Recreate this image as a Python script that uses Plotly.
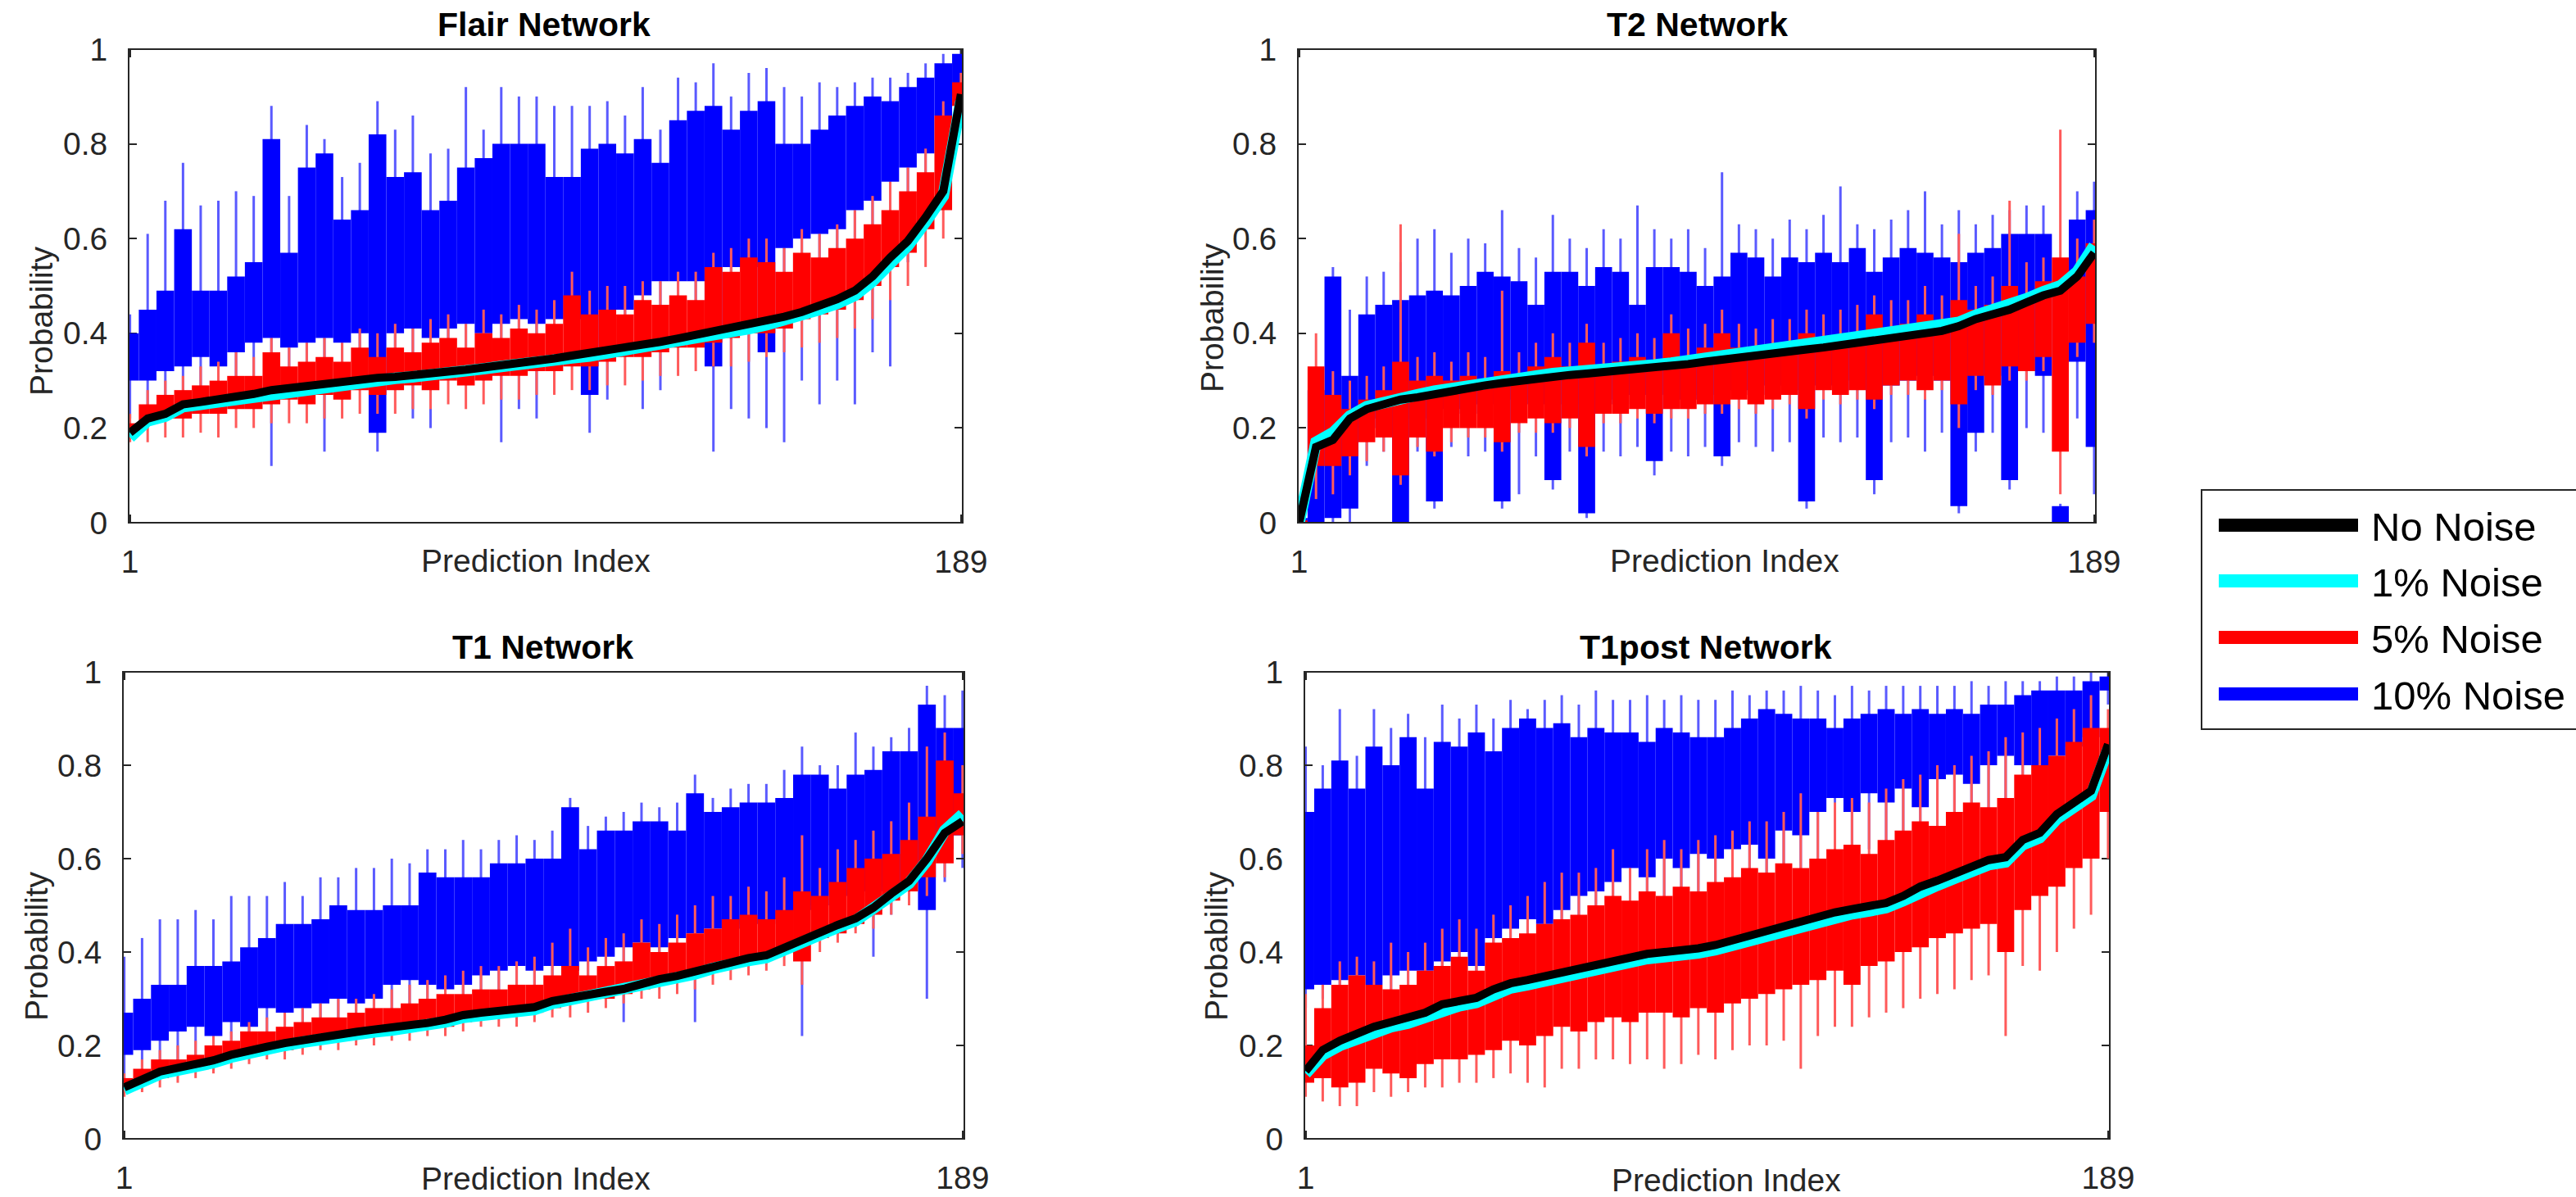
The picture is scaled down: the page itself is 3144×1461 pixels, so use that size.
import plotly.graph_objects as go

W, H = 3144, 1461
FONT = "Liberation Sans, Arial, Helvetica, sans-serif"
AX = "#262626"

# prediction indices (sampled every 4th of 189 sorted predictions)
index = list(range(1, 190, 4))

# ---------------- Flair Network ----------------
flair_none = [0.19,0.22,0.23,0.25,0.255,0.26,0.265,0.272,0.28,0.285,0.289,0.292,
              0.297,0.302,0.306,0.308,0.311,0.314,0.318,0.323,0.328,0.332,0.337,0.341,
              0.347,0.353,0.358,0.363,0.369,0.375,0.382,0.389,0.396,0.403,0.41,0.418,
              0.426,0.435,0.445,0.458,0.472,0.49,0.52,0.56,0.595,0.645,0.70,0.905]
flair_n1 = [0.18,0.215,0.225,0.245,0.25,0.255,0.262,0.268,0.275,0.28,0.285,0.29,
            0.294,0.298,0.302,0.305,0.308,0.311,0.315,0.32,0.325,0.33,0.333,0.337,
            0.343,0.348,0.352,0.358,0.363,0.37,0.376,0.383,0.39,0.397,0.404,0.41,
            0.418,0.427,0.437,0.45,0.463,0.48,0.51,0.55,0.585,0.635,0.69,0.89]
flair_n5_q1 = [0.19,0.21,0.22,0.22,0.23,0.23,0.24,0.24,0.25,0.26,0.25,0.27,
               0.26,0.28,0.27,0.28,0.29,0.28,0.30,0.29,0.30,0.31,0.31,0.32,
               0.32,0.33,0.33,0.34,0.35,0.35,0.36,0.37,0.37,0.38,0.39,0.40,
               0.40,0.41,0.43,0.44,0.45,0.47,0.50,0.54,0.57,0.62,0.66,0.88]
flair_n5_q3 = [0.21,0.25,0.27,0.28,0.29,0.30,0.31,0.31,0.36,0.33,0.34,0.35,
               0.34,0.37,0.35,0.37,0.36,0.38,0.39,0.37,0.40,0.39,0.41,0.40,
               0.42,0.48,0.44,0.45,0.44,0.47,0.46,0.48,0.47,0.54,0.53,0.56,
               0.55,0.53,0.57,0.56,0.58,0.60,0.63,0.66,0.70,0.74,0.86,0.93]
flair_n5_min = [0.17,0.17,0.18,0.18,0.19,0.18,0.20,0.20,0.21,0.21,0.21,0.22,
                0.22,0.23,0.23,0.23,0.24,0.24,0.25,0.24,0.25,0.26,0.26,0.27,
                0.27,0.28,0.28,0.29,0.29,0.30,0.31,0.31,0.32,0.33,0.33,0.34,
                0.35,0.36,0.37,0.38,0.39,0.41,0.43,0.47,0.50,0.54,0.60,0.84]
flair_n5_max = [0.23,0.28,0.30,0.31,0.33,0.34,0.36,0.35,0.39,0.37,0.38,0.39,
                0.38,0.41,0.40,0.42,0.41,0.43,0.44,0.42,0.45,0.44,0.46,0.45,
                0.47,0.53,0.49,0.50,0.50,0.51,0.51,0.53,0.53,0.57,0.58,0.60,
                0.60,0.58,0.62,0.61,0.63,0.66,0.69,0.72,0.75,0.79,0.89,0.95]
flair_n10_q1 = [0.30,0.30,0.32,0.33,0.35,0.33,0.36,0.38,0.39,0.37,0.38,0.39,
                0.38,0.40,0.19,0.40,0.41,0.39,0.41,0.42,0.40,0.42,0.43,0.42,
                0.43,0.43,0.27,0.45,0.45,0.48,0.51,0.51,0.51,0.33,0.54,0.54,
                0.36,0.58,0.60,0.61,0.62,0.66,0.68,0.72,0.75,0.78,0.86,0.90]
flair_n10_q3 = [0.40,0.45,0.49,0.62,0.49,0.49,0.52,0.55,0.81,0.57,0.75,0.78,
                0.64,0.66,0.82,0.73,0.74,0.66,0.68,0.75,0.77,0.80,0.80,0.80,
                0.73,0.73,0.79,0.80,0.78,0.81,0.76,0.85,0.87,0.88,0.83,0.87,
                0.89,0.80,0.80,0.83,0.86,0.88,0.90,0.89,0.92,0.94,0.97,0.99]
flair_n10_min = [0.22,0.24,0.26,0.27,0.28,0.27,0.30,0.30,0.12,0.28,0.28,0.15,
                 0.29,0.30,0.15,0.30,0.22,0.20,0.31,0.33,0.30,0.17,0.24,0.22,
                 0.31,0.33,0.19,0.26,0.35,0.24,0.28,0.40,0.42,0.15,0.24,0.22,
                 0.20,0.17,0.30,0.25,0.30,0.25,0.36,0.33,0.55,0.68,0.76,0.85]
flair_n10_max = [0.44,0.61,0.68,0.76,0.67,0.68,0.70,0.69,0.88,0.69,0.84,0.81,
                 0.73,0.76,0.89,0.83,0.86,0.78,0.79,0.92,0.83,0.92,0.90,0.90,
                 0.88,0.88,0.88,0.89,0.86,0.92,0.83,0.94,0.93,0.97,0.90,0.95,
                 0.96,0.92,0.90,0.93,0.92,0.93,0.94,0.94,0.95,0.97,0.99,1.00]

# ---------------- T2 Network ----------------
t2_none = [0.0,0.16,0.175,0.22,0.24,0.25,0.26,0.265,0.272,0.278,0.285,0.29,
           0.295,0.30,0.305,0.31,0.312,0.315,0.318,0.32,0.323,0.326,0.33,0.335,
           0.34,0.345,0.35,0.354,0.358,0.362,0.366,0.37,0.375,0.38,0.386,0.39,
           0.395,0.40,0.405,0.415,0.43,0.44,0.45,0.465,0.48,0.49,0.52,0.57]
t2_n1 = [0.0,0.17,0.19,0.225,0.245,0.255,0.265,0.27,0.278,0.284,0.29,0.295,
         0.30,0.305,0.31,0.315,0.318,0.32,0.323,0.326,0.33,0.333,0.337,0.342,
         0.347,0.352,0.357,0.36,0.365,0.369,0.373,0.378,0.383,0.388,0.393,0.398,
         0.402,0.408,0.413,0.423,0.438,0.448,0.458,0.473,0.488,0.50,0.53,0.585]
t2_n5_q1 = [0.0,0.12,0.12,0.14,0.17,0.18,0.10,0.18,0.15,0.20,0.20,0.20,
            0.17,0.21,0.22,0.21,0.22,0.16,0.23,0.23,0.24,0.23,0.24,0.24,
            0.25,0.25,0.26,0.25,0.26,0.27,0.24,0.28,0.27,0.28,0.26,0.29,
            0.30,0.28,0.30,0.25,0.31,0.29,0.33,0.32,0.35,0.15,0.38,0.42]
t2_n5_q3 = [0.005,0.33,0.27,0.24,0.26,0.28,0.34,0.30,0.31,0.30,0.31,0.30,
            0.32,0.31,0.33,0.35,0.33,0.38,0.33,0.34,0.35,0.34,0.40,0.35,
            0.37,0.40,0.37,0.36,0.37,0.38,0.40,0.38,0.39,0.39,0.44,0.41,
            0.42,0.44,0.42,0.47,0.45,0.46,0.50,0.47,0.51,0.56,0.52,0.59]
t2_n5_min = [0.0,0.05,0.06,0.10,0.13,0.15,0.08,0.16,0.14,0.17,0.18,0.18,
             0.15,0.19,0.19,0.19,0.20,0.14,0.21,0.21,0.22,0.21,0.22,0.22,
             0.23,0.23,0.24,0.23,0.24,0.25,0.22,0.26,0.25,0.26,0.24,0.27,
             0.27,0.26,0.28,0.20,0.28,0.27,0.30,0.30,0.32,0.06,0.35,0.38]
t2_n5_max = [0.01,0.40,0.32,0.30,0.31,0.33,0.63,0.35,0.36,0.34,0.36,0.35,
             0.49,0.36,0.38,0.40,0.38,0.42,0.38,0.39,0.40,0.39,0.44,0.41,
             0.42,0.45,0.42,0.41,0.43,0.43,0.45,0.44,0.45,0.46,0.48,0.47,
             0.47,0.50,0.48,0.61,0.50,0.52,0.68,0.55,0.56,0.83,0.60,0.64]
t2_n10_q1 = [0.0,0.0,0.01,0.03,0.20,0.22,0.0,0.22,0.045,0.24,0.23,0.25,
             0.045,0.26,0.25,0.09,0.25,0.02,0.26,0.25,0.27,0.13,0.27,0.26,
             0.27,0.14,0.28,0.27,0.29,0.28,0.045,0.29,0.28,0.30,0.09,0.29,
             0.30,0.31,0.30,0.035,0.19,0.31,0.09,0.32,0.31,0.0,0.34,0.16]
t2_n10_q3 = [0.01,0.28,0.52,0.31,0.44,0.46,0.47,0.48,0.49,0.48,0.50,0.53,
             0.52,0.51,0.46,0.53,0.53,0.50,0.54,0.53,0.46,0.54,0.54,0.53,
             0.50,0.52,0.57,0.56,0.52,0.56,0.55,0.57,0.55,0.58,0.53,0.56,
             0.58,0.57,0.56,0.55,0.57,0.58,0.61,0.61,0.61,0.035,0.64,0.66]
t2_n10_min = [0.0,0.0,0.0,0.0,0.12,0.15,0.0,0.15,0.03,0.16,0.14,0.15,
              0.03,0.06,0.14,0.07,0.15,0.01,0.15,0.14,0.16,0.10,0.15,0.14,
              0.16,0.12,0.17,0.16,0.15,0.17,0.03,0.18,0.17,0.18,0.06,0.17,
              0.18,0.15,0.19,0.02,0.15,0.19,0.07,0.20,0.19,0.0,0.22,0.06]
t2_n10_max = [0.02,0.31,0.54,0.45,0.52,0.53,0.55,0.60,0.62,0.57,0.60,0.59,
              0.66,0.58,0.56,0.65,0.60,0.58,0.62,0.60,0.67,0.62,0.60,0.62,
              0.58,0.74,0.63,0.62,0.60,0.64,0.62,0.65,0.71,0.63,0.62,0.64,
              0.66,0.70,0.63,0.66,0.63,0.65,0.66,0.67,0.67,0.04,0.70,0.72]

# ---------------- T1 Network ----------------
t1_none = [0.11,0.128,0.144,0.152,0.158,0.168,0.18,0.19,0.197,0.205,0.212,0.219,
           0.224,0.229,0.234,0.238,0.243,0.248,0.255,0.265,0.27,0.273,0.277,0.282,
           0.295,0.303,0.308,0.315,0.321,0.332,0.342,0.349,0.358,0.37,0.38,0.387,
           0.393,0.41,0.427,0.445,0.458,0.472,0.495,0.525,0.552,0.60,0.655,0.68]
t1_n1 = [0.105,0.123,0.139,0.147,0.153,0.163,0.175,0.185,0.192,0.2,0.207,0.214,
         0.219,0.224,0.229,0.233,0.238,0.243,0.25,0.26,0.265,0.268,0.272,0.277,
         0.29,0.298,0.303,0.31,0.316,0.327,0.337,0.344,0.353,0.365,0.375,0.382,
         0.388,0.405,0.422,0.44,0.453,0.467,0.49,0.52,0.547,0.595,0.66,0.695]
t1_n5_q1 = [0.11,0.12,0.13,0.14,0.15,0.16,0.17,0.18,0.19,0.19,0.20,0.21,
            0.21,0.22,0.22,0.23,0.23,0.24,0.24,0.25,0.26,0.26,0.27,0.27,
            0.28,0.29,0.30,0.30,0.31,0.32,0.33,0.34,0.35,0.36,0.37,0.38,
            0.39,0.40,0.38,0.43,0.44,0.46,0.48,0.51,0.53,0.56,0.59,0.65]
t1_n5_q3 = [0.13,0.15,0.17,0.17,0.18,0.20,0.21,0.23,0.23,0.24,0.25,0.26,
            0.26,0.27,0.28,0.28,0.29,0.30,0.31,0.31,0.32,0.32,0.33,0.33,
            0.35,0.37,0.35,0.37,0.38,0.42,0.40,0.42,0.44,0.45,0.47,0.48,
            0.47,0.49,0.53,0.52,0.55,0.58,0.60,0.61,0.64,0.69,0.81,0.74]
t1_n5_min = [0.09,0.10,0.11,0.12,0.13,0.14,0.15,0.16,0.17,0.17,0.18,0.19,
             0.19,0.20,0.20,0.21,0.21,0.22,0.22,0.23,0.24,0.24,0.24,0.25,
             0.26,0.26,0.27,0.28,0.29,0.30,0.30,0.31,0.32,0.33,0.34,0.35,
             0.36,0.37,0.33,0.40,0.42,0.44,0.45,0.48,0.50,0.52,0.56,0.61]
t1_n5_max = [0.14,0.17,0.19,0.20,0.21,0.22,0.23,0.25,0.26,0.27,0.28,0.29,
             0.30,0.30,0.31,0.32,0.33,0.34,0.35,0.36,0.37,0.37,0.38,0.39,
             0.42,0.45,0.41,0.43,0.44,0.47,0.46,0.48,0.50,0.52,0.52,0.54,
             0.53,0.56,0.65,0.58,0.62,0.64,0.66,0.68,0.72,0.84,0.87,0.80]
t1_n10_q1 = [0.18,0.19,0.21,0.23,0.24,0.22,0.25,0.24,0.28,0.27,0.28,0.29,
             0.30,0.29,0.30,0.33,0.34,0.33,0.32,0.33,0.35,0.36,0.37,0.36,
             0.37,0.36,0.38,0.39,0.41,0.42,0.41,0.43,0.44,0.45,0.45,0.46,
             0.46,0.47,0.49,0.50,0.52,0.52,0.53,0.54,0.55,0.49,0.62,0.65]
t1_n10_q3 = [0.27,0.30,0.33,0.33,0.37,0.37,0.38,0.41,0.43,0.46,0.46,0.47,
             0.50,0.49,0.49,0.50,0.50,0.57,0.56,0.56,0.56,0.59,0.59,0.60,
             0.60,0.71,0.62,0.66,0.66,0.68,0.68,0.66,0.74,0.70,0.71,0.72,
             0.72,0.73,0.78,0.78,0.75,0.78,0.79,0.83,0.83,0.93,0.88,0.88]
t1_n10_min = [0.13,0.14,0.15,0.16,0.17,0.16,0.19,0.19,0.21,0.21,0.22,0.23,
              0.24,0.24,0.25,0.27,0.27,0.27,0.27,0.28,0.28,0.30,0.31,0.31,
              0.32,0.33,0.33,0.34,0.25,0.35,0.36,0.37,0.25,0.38,0.39,0.40,
              0.41,0.42,0.22,0.44,0.46,0.47,0.39,0.48,0.50,0.30,0.55,0.58]
t1_n10_max = [0.39,0.43,0.47,0.47,0.49,0.47,0.52,0.52,0.52,0.55,0.52,0.56,
              0.56,0.58,0.58,0.60,0.59,0.62,0.62,0.64,0.62,0.64,0.65,0.64,
              0.66,0.73,0.67,0.69,0.70,0.72,0.71,0.72,0.78,0.73,0.75,0.76,
              0.76,0.79,0.84,0.80,0.80,0.87,0.84,0.86,0.88,0.97,0.95,0.96]

# ---------------- T1post Network ----------------
t1p_none = [0.145,0.19,0.21,0.225,0.24,0.25,0.258,0.27,0.288,0.295,0.302,0.32,
            0.333,0.34,0.348,0.358,0.367,0.375,0.382,0.39,0.396,0.40,0.402,0.408,
            0.415,0.425,0.437,0.447,0.455,0.463,0.474,0.485,0.492,0.498,0.505,0.52,
            0.54,0.553,0.568,0.585,0.597,0.603,0.64,0.655,0.695,0.72,0.745,0.845]
t1p_n1 = [0.14,0.18,0.2,0.215,0.23,0.24,0.248,0.26,0.278,0.285,0.292,0.31,
          0.323,0.33,0.338,0.348,0.357,0.365,0.372,0.38,0.386,0.39,0.392,0.398,
          0.405,0.415,0.427,0.437,0.445,0.453,0.464,0.475,0.482,0.488,0.495,0.51,
          0.53,0.543,0.558,0.575,0.587,0.593,0.63,0.645,0.685,0.71,0.735,0.835]
t1p_n5_q1 = [0.12,0.13,0.11,0.12,0.15,0.14,0.13,0.16,0.17,0.17,0.18,0.19,
             0.21,0.20,0.22,0.24,0.23,0.25,0.26,0.25,0.27,0.27,0.26,0.28,
             0.27,0.29,0.30,0.31,0.32,0.33,0.34,0.36,0.33,0.37,0.38,0.40,
             0.41,0.43,0.44,0.45,0.46,0.40,0.49,0.52,0.54,0.58,0.60,0.70]
t1p_n5_q3 = [0.20,0.28,0.33,0.35,0.33,0.32,0.33,0.36,0.37,0.39,0.36,0.42,
             0.43,0.44,0.46,0.47,0.48,0.50,0.52,0.51,0.53,0.52,0.54,0.53,
             0.55,0.56,0.58,0.57,0.59,0.58,0.60,0.62,0.63,0.61,0.64,0.66,
             0.68,0.67,0.70,0.72,0.71,0.73,0.78,0.80,0.82,0.85,0.88,0.88]
t1p_n5_min = [0.09,0.08,0.07,0.07,0.10,0.09,0.10,0.11,0.11,0.12,0.12,0.13,
              0.14,0.12,0.11,0.15,0.15,0.17,0.17,0.16,0.17,0.15,0.16,0.18,
              0.17,0.19,0.20,0.20,0.21,0.15,0.22,0.24,0.24,0.26,0.27,0.28,
              0.30,0.31,0.32,0.34,0.35,0.22,0.37,0.36,0.40,0.45,0.48,0.60]
t1p_n5_max = [0.31,0.33,0.38,0.39,0.38,0.42,0.40,0.42,0.45,0.47,0.45,0.48,
              0.50,0.52,0.55,0.57,0.57,0.58,0.62,0.58,0.62,0.64,0.62,0.64,
              0.65,0.66,0.68,0.68,0.70,0.74,0.70,0.72,0.73,0.72,0.75,0.77,
              0.78,0.80,0.80,0.82,0.83,0.86,0.87,0.88,0.90,0.92,0.95,0.92]
t1p_n10_q1 = [0.32,0.33,0.34,0.35,0.33,0.35,0.36,0.36,0.38,0.40,0.37,0.43,
              0.45,0.47,0.46,0.49,0.52,0.53,0.55,0.58,0.56,0.60,0.58,0.61,
              0.60,0.62,0.63,0.60,0.66,0.65,0.70,0.73,0.70,0.74,0.72,0.75,
              0.71,0.77,0.78,0.76,0.80,0.82,0.80,0.80,0.82,0.84,0.86,0.96]
t1p_n10_q3 = [0.70,0.75,0.81,0.75,0.84,0.80,0.86,0.75,0.85,0.84,0.87,0.83,
              0.88,0.90,0.88,0.89,0.86,0.88,0.87,0.87,0.85,0.88,0.87,0.86,
              0.86,0.88,0.90,0.92,0.91,0.90,0.90,0.88,0.90,0.91,0.92,0.91,
              0.92,0.91,0.92,0.91,0.93,0.93,0.95,0.96,0.96,0.96,0.98,0.99]
t1p_n10_min = [0.28,0.30,0.30,0.31,0.30,0.31,0.31,0.33,0.33,0.35,0.34,0.37,
               0.38,0.39,0.40,0.41,0.44,0.45,0.46,0.47,0.48,0.50,0.49,0.50,
               0.52,0.52,0.53,0.52,0.56,0.56,0.58,0.60,0.61,0.62,0.62,0.64,
               0.63,0.66,0.67,0.68,0.70,0.72,0.71,0.74,0.75,0.78,0.80,0.93]
t1p_n10_max = [0.84,0.80,0.92,0.82,0.92,0.88,0.91,0.86,0.93,0.90,0.93,0.90,
               0.94,0.92,0.94,0.95,0.93,0.96,0.94,0.94,0.95,0.94,0.95,0.94,
               0.94,0.96,0.95,0.96,0.96,0.97,0.96,0.95,0.97,0.96,0.97,0.97,
               0.97,0.97,0.97,0.98,0.97,0.98,0.98,0.98,0.99,0.99,1.00,1.00]

titles = ["Flair Network", "T2 Network", "T1 Network", "T1post Network"]
series_names = ["No Noise", "1% Noise", "5% Noise", "10% Noise"]
series_colors = ["#000000", "#00ffff", "#ff0000", "#0000ff"]
x_ticks = [1, 189]
y_ticks = [0, 0.2, 0.4, 0.6, 0.8, 1]
y_ticktext = ["0", "0.2", "0.4", "0.6", "0.8", "1"]

panel_data = [
    (flair_none, flair_n1, flair_n5_q1, flair_n5_q3, flair_n5_min, flair_n5_max,
     flair_n10_q1, flair_n10_q3, flair_n10_min, flair_n10_max),
    (t2_none, t2_n1, t2_n5_q1, t2_n5_q3, t2_n5_min, t2_n5_max,
     t2_n10_q1, t2_n10_q3, t2_n10_min, t2_n10_max),
    (t1_none, t1_n1, t1_n5_q1, t1_n5_q3, t1_n5_min, t1_n5_max,
     t1_n10_q1, t1_n10_q3, t1_n10_min, t1_n10_max),
    (t1p_none, t1p_n1, t1p_n5_q1, t1p_n5_q3, t1p_n5_min, t1p_n5_max,
     t1p_n10_q1, t1p_n10_q3, t1p_n10_min, t1p_n10_max),
]
for pd_ in panel_data:
    for s in pd_:
        assert len(s) == len(index), len(s)

# layout geometry in pixels: axes box, title centre, x-label centre, y-label centre
geom = [
    dict(x0=157, x1=1175, y0=60, y1=638, title=(664, 30), xl=(654, 684), yl=(50, 392)),
    dict(x0=1584, x1=2558, y0=60, y1=638, title=(2071, 30), xl=(2105, 684), yl=(1480, 388)),
    dict(x0=150, x1=1177, y0=820, y1=1390, title=(662, 790), xl=(654, 1438), yl=(44, 1155)),
    dict(x0=1592, x1=2575, y0=820, y1=1390, title=(2082, 790), xl=(2107, 1440), yl=(1484, 1155)),
]


def px(x):
    return x / W


def py(y):
    return 1 - y / H


def segments(xs, lo, hi):
    X, Y = [], []
    for x, a, b in zip(xs, lo, hi):
        X += [x, x, None]
        Y += [a, b, None]
    return X, Y


fig = go.Figure()
layout_axes = {}
annotations = []
shapes = []

for k, (data, g, title) in enumerate(zip(panel_data, geom, titles)):
    none, n1, r_q1, r_q3, r_min, r_max, b_q1, b_q3, b_min, b_max = data
    sfx = "" if k == 0 else str(k + 1)
    xa, ya = "x" + sfx, "y" + sfx

    # 10% noise whiskers and boxes
    wx, wy = segments(index, b_min, b_max)
    fig.add_trace(go.Scatter(x=wx, y=wy, mode="lines", xaxis=xa, yaxis=ya,
                             line=dict(color="#5a5aff", width=3), showlegend=False,
                             hoverinfo="skip", zorder=0))
    fig.add_trace(go.Bar(x=index, y=[h - l for l, h in zip(b_q1, b_q3)], base=b_q1,
                         width=4, xaxis=xa, yaxis=ya, marker=dict(color="#0000ff", line=dict(width=0)),
                         showlegend=False, name=series_names[3], zorder=1))
    # 5% noise whiskers and boxes
    wx, wy = segments(index, r_min, r_max)
    fig.add_trace(go.Scatter(x=wx, y=wy, mode="lines", xaxis=xa, yaxis=ya,
                             line=dict(color="#ff5a5a", width=3), showlegend=False,
                             hoverinfo="skip", zorder=2))
    fig.add_trace(go.Bar(x=index, y=[h - l for l, h in zip(r_q1, r_q3)], base=r_q1,
                         width=4, xaxis=xa, yaxis=ya, marker=dict(color="#ff0000", line=dict(width=0)),
                         showlegend=False, name=series_names[2], zorder=3))
    # 1% noise
    fig.add_trace(go.Scatter(x=index, y=n1, mode="lines", xaxis=xa, yaxis=ya,
                             line=dict(color="#00ffff", width=14), showlegend=False,
                             name=series_names[1], zorder=4))
    # no noise
    fig.add_trace(go.Scatter(x=index, y=none, mode="lines", xaxis=xa, yaxis=ya,
                             line=dict(color="#000000", width=10), showlegend=False,
                             name=series_names[0], zorder=5))

    common = dict(showline=True, linecolor=AX, linewidth=2, mirror="ticks",
                  ticks="inside", ticklen=10, tickwidth=2, tickcolor=AX,
                  showgrid=False, zeroline=False, automargin=False,
                  tickfont=dict(family=FONT, size=39, color=AX))
    layout_axes["xaxis" + sfx] = dict(domain=[px(g["x0"]), px(g["x1"])], anchor=ya,
                                      range=[0.7, 189.4], tickmode="array",
                                      tickvals=x_ticks, ticktext=[str(t) for t in x_ticks],
                                      ticklabelstandoff=12, **common)
    layout_axes["yaxis" + sfx] = dict(domain=[py(g["y1"]), py(g["y0"])], anchor=xa,
                                      range=[0, 1], tickmode="array", tickvals=y_ticks,
                                      ticktext=y_ticktext, ticklabelstandoff=16, **common)

    # axes box (drawn on top like the original frame)
    shapes.append(dict(type="rect", xref=xa + " domain", yref=ya + " domain",
                       x0=0, x1=1, y0=0, y1=1, line=dict(color=AX, width=2),
                       fillcolor="rgba(0,0,0,0)", layer="above"))

    annotations.append(dict(text="<b>" + title + "</b>", x=px(g["title"][0]), y=py(g["title"][1]),
                            xref="paper", yref="paper", xanchor="center", yanchor="middle",
                            showarrow=False, font=dict(family=FONT, size=41, color="#000000")))
    annotations.append(dict(text="Prediction Index", x=px(g["xl"][0]), y=py(g["xl"][1]),
                            xref="paper", yref="paper", xanchor="center", yanchor="middle",
                            showarrow=False, font=dict(family=FONT, size=39, color=AX)))
    annotations.append(dict(text="Probability", x=px(g["yl"][0]), y=py(g["yl"][1]),
                            xref="paper", yref="paper", xanchor="center", yanchor="middle",
                            textangle=-90, showarrow=False,
                            font=dict(family=FONT, size=39, color=AX)))

# legend (drawn as shapes + text; box runs off the right edge like the original)
shapes.append(dict(type="rect", xref="paper", yref="paper",
                   x0=px(2687), x1=px(3175), y0=py(890), y1=py(598),
                   line=dict(color=AX, width=2), fillcolor="white", layer="above"))
leg_rows = [641, 709, 778, 847]
for name, col, yy in zip(series_names, series_colors, leg_rows):
    shapes.append(dict(type="line", xref="paper", yref="paper",
                       x0=px(2708), x1=px(2878), y0=py(yy), y1=py(yy),
                       line=dict(color=col, width=16), layer="above"))
    annotations.append(dict(text=name, x=px(2892), y=py(yy + 2), xref="paper", yref="paper",
                            xanchor="left", yanchor="middle", showarrow=False,
                            font=dict(family=FONT, size=49, color="#000000")))

fig.update_layout(
    template="none",
    width=W, height=H, autosize=False,
    margin=dict(l=0, r=0, t=0, b=0, pad=0, autoexpand=False),
    paper_bgcolor="white", plot_bgcolor="white",
    barmode="overlay", showlegend=False,
    annotations=annotations, shapes=shapes,
    font=dict(family=FONT),
    **layout_axes,
)

fig.write_html("out.html")
